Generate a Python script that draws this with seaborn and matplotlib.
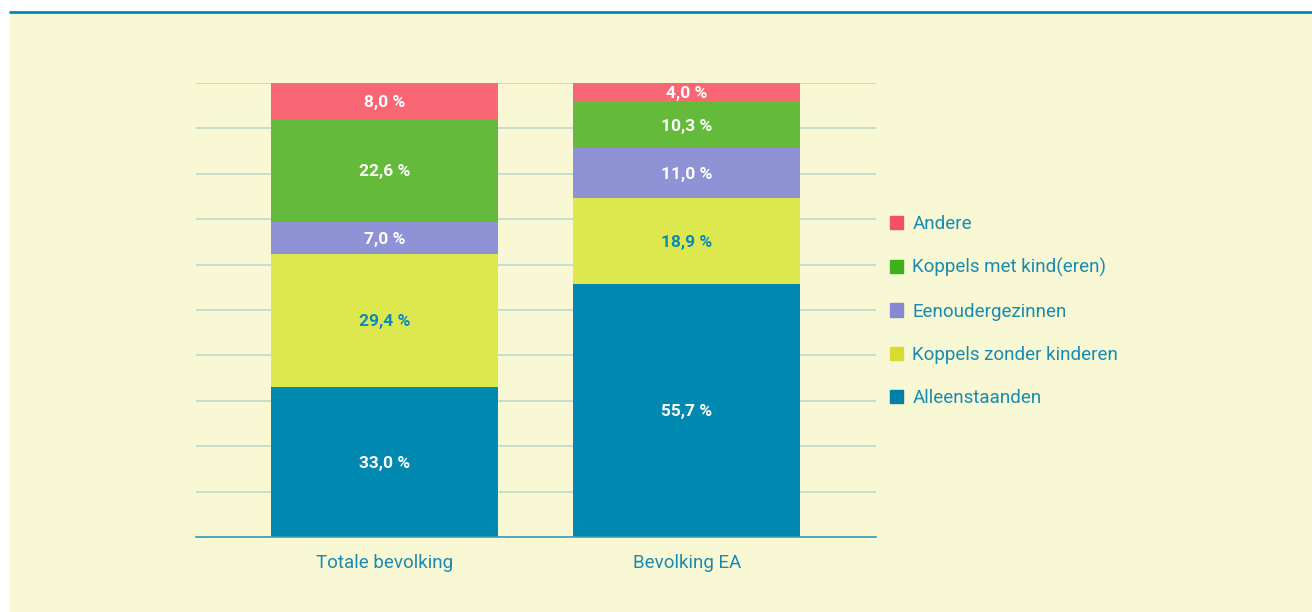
import matplotlib
matplotlib.use('Agg')
import matplotlib.pyplot as plt
from matplotlib.patches import Patch, Rectangle
from matplotlib.lines import Line2D
import numpy as np
import pandas as pd
import seaborn as sns

# data (percent)
groups = ['Totale bevolking', 'Bevolking EA']
alleenstaanden = [33.0, 55.7]
koppels_zonder = [29.4, 18.9]
eenouder = [7.0, 11.0]
koppels_met = [22.6, 10.3]
andere = [8.0, 4.0]

series_names = ['Alleenstaanden', 'Koppels zonder kinderen', 'Eenoudergezinnen',
                'Koppels met kind(eren)', 'Andere']
series_values = [alleenstaanden, koppels_zonder, eenouder, koppels_met, andere]
bar_colors = ['#0089B0', '#DDE84F', '#8F93D6', '#64BA3B', '#F96674']
legend_colors = ['#0080A8', '#D6DC30', '#8888D4', '#3CB119', '#F5506A']
text_colors = ['white', '#0A8AB8', 'white', 'white', 'white']

blue = '#1A8AB0'
bg = '#F8F8D4'

sns.set_style('white')
plt.rcParams['font.family'] = ['Roboto', 'DejaVu Sans']

fig = plt.figure(figsize=(13.12, 6.12), dpi=100)
fig.patches.append(Rectangle((10 / 1312, 0), 1, (612 - 13) / 612,
                             transform=fig.transFigure, color=bg, zorder=-10))
fig.add_artist(Line2D([10 / 1312, 1], [1 - 12 / 612] * 2, color='#0089B0', lw=2))

ax = fig.add_axes([196 / 1312, 1 - 537 / 612, 680 / 1312, 454 / 612])
ax.patch.set_alpha(0)

# stacked bars: draw cumulative totals from the top layer down
df = pd.DataFrame({'group': groups})
cum = np.zeros(len(groups))
cums = []
for vals in series_values:
    cum = cum + np.array(vals)
    cums.append(cum.copy())

for i in range(len(series_values) - 1, -1, -1):
    df['top'] = cums[i]
    sns.barplot(data=df, x='group', y='top', color=bar_colors[i], width=0.75,
                saturation=1, linewidth=0, edgecolor='none', ax=ax, zorder=3)

# segment labels
for i, vals in enumerate(series_values):
    for j, v in enumerate(vals):
        y = cums[i][j] - v / 2 - 0.3
        ax.text(j, y, f'{v:.1f} %'.replace('.', ','), ha='center', va='center',
                color=text_colors[i], fontsize=12.5, fontweight='semibold', zorder=5)

ax.set_xlim(-0.625, 1.627)
ax.set_ylim(0, 100)
ax.set_yticks(range(0, 101, 10))
ax.yaxis.grid(True, color='#BFD8C8', lw=1.2, zorder=0)
ax.set_axisbelow(True)
ax.tick_params(left=False, labelleft=False, bottom=False, pad=9)
for lbl in ax.get_xticklabels():
    lbl.set_color(blue)
    lbl.set_fontsize(13.5)
ax.set_xlabel('')
ax.set_ylabel('')
for s in ['top', 'right', 'left']:
    ax.spines[s].set_visible(False)
ax.spines['bottom'].set_color('#3D9AB8')
ax.spines['bottom'].set_linewidth(1.2)
ax.spines['bottom'].set_zorder(6)

handles = [Patch(color=legend_colors[i]) for i in range(len(series_names) - 1, -1, -1)]
labels = series_names[::-1]
fig.legend(handles, labels, loc='center left',
           bbox_to_anchor=(890 / 1312, 1 - 311 / 612), frameon=False,
           fontsize=13.5, labelcolor=blue, handlelength=0.7, handleheight=0.7,
           handletextpad=0.5, labelspacing=1.34, borderpad=0, borderaxespad=0)

fig.savefig('out.png', dpi=100)
